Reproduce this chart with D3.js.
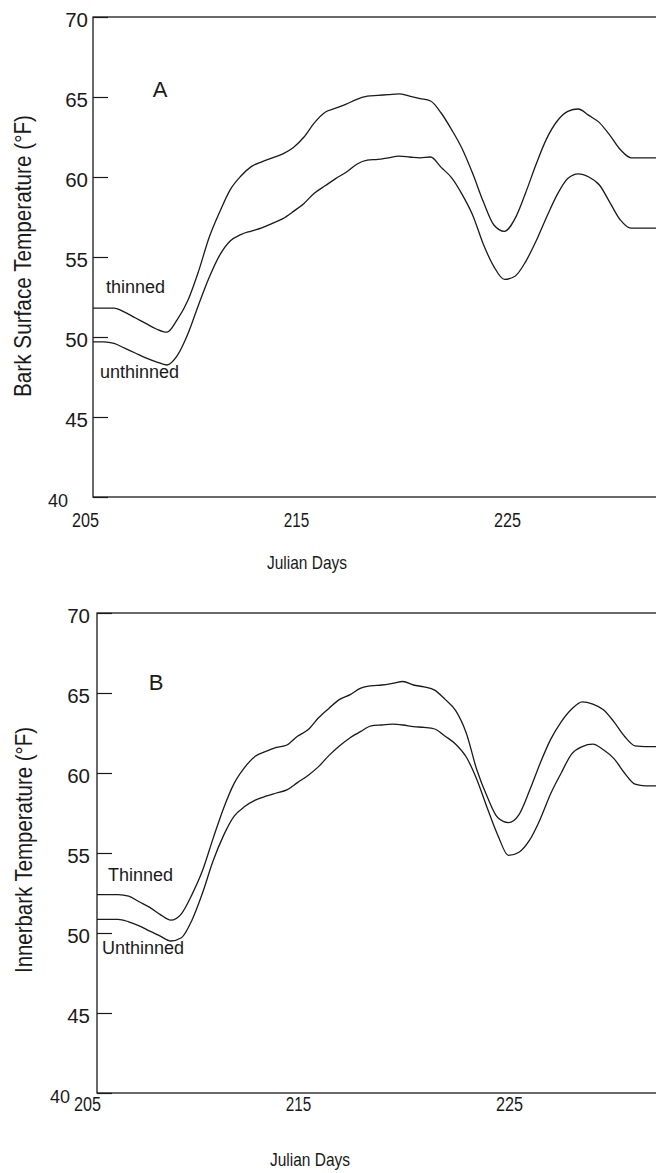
<!DOCTYPE html>
<html>
<head>
<meta charset="utf-8">
<script src="https://cdn.jsdelivr.net/npm/d3@7"></script>
<style>
  body { margin: 0; background: #fff; }
  svg { display: block; }
  text { fill: #1a1a1a; font-family: 'Liberation Sans', Arial, sans-serif; }
</style>
</head>
<body>
<div id="chart"></div>
<script>
// half-day steps, Julian days
var days = [205, 205.5, 206, 206.5, 207, 207.5, 208, 208.5, 209, 209.5,
            210, 210.5, 211, 211.5, 212, 212.5, 213, 213.5, 214, 214.5,
            215, 215.5, 216, 216.5, 217, 217.5, 218, 218.5, 219, 219.5,
            220, 220.5, 221, 221.5, 222, 222.5, 223, 223.5, 224, 224.5,
            225, 225.5, 226, 226.5, 227, 227.5, 228, 228.5, 229, 229.5,
            230, 230.5, 231, 231.5, 232];

// panel A: bark surface temperature (F)
var barkThinned = [51.8, 51.8, 51.8, 51.55, 51.2, 50.85, 50.5, 50.3, 51.1, 52.3,
                   54.1, 56.2, 57.8, 59.2, 60.05, 60.65, 60.95, 61.2, 61.45, 61.85,
                   62.5, 63.4, 64.05, 64.3, 64.55, 64.85, 65.05, 65.1, 65.15, 65.2,
                   65.05, 64.9, 64.75, 64.0, 62.95, 61.75, 60.2, 58.45, 57.0, 56.6,
                   57.4, 59.0, 60.8, 62.4, 63.5, 64.1, 64.25, 63.85, 63.4, 62.6,
                   61.7, 61.2, 61.2, 61.2, 61.2];
var barkUnthinned = [49.7, 49.7, 49.6, 49.3, 49.0, 48.7, 48.45, 48.25, 48.85, 50.2,
                     52.0, 53.7, 55.1, 56.0, 56.4, 56.62, 56.82, 57.1, 57.4, 57.85,
                     58.35, 59.0, 59.45, 59.9, 60.3, 60.8, 61.05, 61.1, 61.2, 61.3,
                     61.25, 61.2, 61.25, 60.6, 59.95, 58.9, 57.6, 55.8, 54.4, 53.6,
                     53.8, 54.7, 56.0, 57.5, 58.9, 59.9, 60.2, 60.0, 59.5, 58.4,
                     57.3, 56.8, 56.8, 56.8, 56.8];

// panel B: innerbark temperature (F)
var innerThinned = [52.4, 52.4, 52.4, 52.3, 51.95, 51.6, 51.15, 50.8, 51.2, 52.4,
                    53.9, 55.9, 57.8, 59.35, 60.35, 61.05, 61.35, 61.6, 61.75, 62.3,
                    62.7, 63.45, 64.05, 64.6, 64.9, 65.3, 65.45, 65.5, 65.6, 65.72,
                    65.5, 65.38, 65.18, 64.6, 63.9, 62.5, 60.2, 58.5, 57.2, 56.9,
                    57.4, 58.9, 60.6, 62.1, 63.2, 64.0, 64.45, 64.3, 63.95, 63.2,
                    62.3, 61.7, 61.65, 61.65, 61.65];
var innerUnthinned = [50.85, 50.85, 50.85, 50.7, 50.45, 50.12, 49.8, 49.5, 49.7, 50.8,
                      52.5, 54.5, 56.1, 57.3, 57.9, 58.3, 58.55, 58.75, 58.95, 59.4,
                      59.85, 60.4, 61.1, 61.7, 62.2, 62.6, 62.95, 63.0, 63.05, 63.0,
                      62.9, 62.85, 62.75, 62.3, 61.8, 61.0, 59.6, 57.8, 56.1, 54.85,
                      55.05, 55.8, 57.1, 58.7, 60.0, 61.2, 61.65, 61.8, 61.45, 60.9,
                      60.0, 59.3, 59.2, 59.2, 59.2];

var yTicks = [40, 45, 50, 55, 60, 65, 70];
var xTicks = [205, 215, 225];
var xTickWidths = {205: 27, 215: 25.5, 225: 27};

var w = 656;
var h = 1173;
var pxPerDay = 21.1;

var svg = d3.select("#chart")
    .append("svg")
    .attr("width", w)
    .attr("height", h);

var line = d3.line().curve(d3.curveMonotoneX);

function drawPanel(p) {
    var g = svg.append("g");

    var x = d3.scaleLinear()
        .domain([205, 232])
        .range([p.left, p.left + 27 * pxPerDay]);
    var y = d3.scaleLinear()
        .domain([40, 70])
        .range([p.bottom, p.top]);

    // frame
    g.append("rect")
        .attr("x", x(205))
        .attr("y", y(70))
        .attr("width", x(232) - x(205))
        .attr("height", y(40) - y(70))
        .attr("fill", "none")
        .attr("stroke", "#1a1a1a")
        .attr("stroke-width", 1.3);

    // y axis, ticks pointing inward
    var yAxis = g.append("g")
        .attr("transform", "translate(" + p.left + ",0)")
        .call(d3.axisLeft(y).tickValues(yTicks).tickSizeInner(-15).tickSizeOuter(0).tickPadding(p.yPad));
    yAxis.select(".domain").remove();
    yAxis.selectAll("line").attr("stroke", "#1a1a1a").attr("stroke-width", 1.2);
    yAxis.selectAll("text")
        .attr("fill", "#1a1a1a")
        .style("font-family", "'Liberation Sans', Arial, sans-serif")
        .style("font-size", function(d) { return d === 40 ? "18px" : "20.5px"; })
        .attr("dx", function(d) { return d === 40 ? -20 : 0; })
        .attr("dy", function(d) { return d === 40 ? "0.5em" : "0.45em"; });

    // x axis, labels only
    var xAxis = g.append("g")
        .attr("transform", "translate(0," + p.bottom + ")")
        .call(d3.axisBottom(x).tickValues(xTicks).tickSize(0).tickPadding(p.xPad));
    xAxis.select(".domain").remove();
    xAxis.selectAll("text")
        .attr("fill", "#1a1a1a")
        .attr("dx", p.xDx)
        .attr("textLength", function(d) { return xTickWidths[d]; })
        .attr("lengthAdjust", "spacingAndGlyphs")
        .style("font-family", "'Liberation Sans', Arial, sans-serif")
        .style("font-size", "19.5px");

    // curves
    [p.thinned, p.unthinned].forEach(function(vals) {
        g.append("path")
            .attr("d", line(days.map(function(d, i) { return [x(d), y(vals[i])]; })))
            .attr("fill", "none")
            .attr("stroke", "#1a1a1a")
            .attr("stroke-width", 1.3);
    });

    // panel letter
    g.append("text")
        .attr("x", p.letterX)
        .attr("y", p.letterY)
        .attr("text-anchor", "middle")
        .style("font-size", "22px")
        .text(p.letter);

    // curve labels
    g.append("text")
        .attr("x", p.thinLabel[0])
        .attr("y", p.thinLabel[1])
        .style("font-size", "18px")
        .text(p.thinText);
    g.append("text")
        .attr("x", p.unthinLabel[0])
        .attr("y", p.unthinLabel[1])
        .style("font-size", "18px")
        .text(p.unthinText);

    // axis titles (squeezed to the narrow lettering of the original)
    g.append("text")
        .attr("x", p.xTitle[0])
        .attr("y", p.xTitle[1])
        .attr("text-anchor", "middle")
        .attr("textLength", 80)
        .attr("lengthAdjust", "spacingAndGlyphs")
        .style("font-size", "18.5px")
        .text("Julian Days");

    g.append("text")
        .attr("transform", "translate(" + p.yTitle[0] + "," + p.yTitle[1] + ") rotate(-90)")
        .attr("text-anchor", "middle")
        .attr("textLength", p.yTitleLen)
        .attr("lengthAdjust", "spacingAndGlyphs")
        .style("font-size", "24px")
        .text(p.yTitleText);
}

drawPanel({
    left: 93, top: 17, bottom: 497,
    yPad: 5, xPad: 16, xDx: -8,
    thinned: barkThinned, unthinned: barkUnthinned,
    letter: "A", letterX: 160, letterY: 97,
    thinText: "thinned", thinLabel: [106, 293],
    unthinText: "unthinned", unthinLabel: [100, 378],
    xTitle: [307, 569],
    yTitle: [31, 256], yTitleLen: 282, yTitleText: "Bark Surface Temperature (\u00B0F)"
});

drawPanel({
    left: 97, top: 613, bottom: 1093,
    yPad: 7, xPad: 4, xDx: -10,
    thinned: innerThinned, unthinned: innerUnthinned,
    letter: "B", letterX: 156, letterY: 690,
    thinText: "Thinned", thinLabel: [108, 881],
    unthinText: "Unthinned", unthinLabel: [102, 954],
    xTitle: [310, 1166],
    yTitle: [32, 850], yTitleLen: 246, yTitleText: "Innerbark Temperature (\u00B0F)"
});
</script>
</body>
</html>
